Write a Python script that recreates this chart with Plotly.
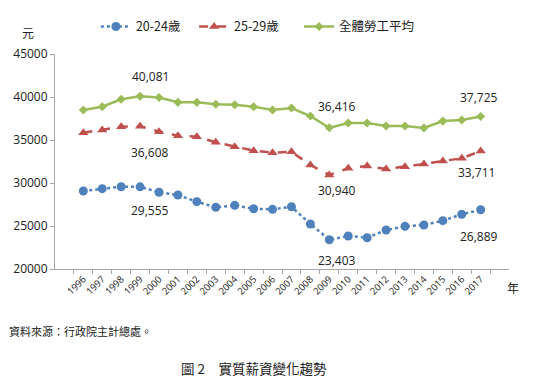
import plotly.graph_objects as go

years = [str(y) for y in range(1996, 2018)]
age_20_24 = [29070, 29340, 29570, 29555, 28920, 28600, 27830, 27170, 27400, 27010, 26940,
             27240, 25230, 23403, 23840, 23640, 24530, 24960, 25120, 25620, 26360, 26889]
age_25_29 = [35850, 36160, 36550, 36608, 35970, 35500, 35380, 34730, 34220, 33760, 33520,
             33640, 32090, 30940, 31710, 31980, 31630, 31900, 32210, 32560, 32870, 33711]
all_avg = [38490, 38870, 39730, 40081, 39950, 39380, 39380, 39150, 39100, 38870, 38490,
           38720, 37790, 36416, 36977, 36977, 36630, 36630, 36400, 37200, 37330, 37725]
names = ["20-24歲", "25-29歲", "全體勞工平均"]
y_ticks = [20000, 25000, 30000, 35000, 40000, 45000]

FONT = "Open Sans, Noto Sans CJK TC, sans-serif"
CJK = "Noto Sans CJK TC, sans-serif"

fig = go.Figure()
fig.add_trace(go.Scatter(x=years, y=age_20_24, name=names[0], mode="lines+markers",
                         line=dict(color="#4F81BD", width=2.5, dash="dot"),
                         marker=dict(symbol="circle", size=9, color="#4F81BD"),
                         legend="legend"))
fig.add_trace(go.Scatter(x=years, y=age_25_29, name=names[1], mode="lines+markers",
                         line=dict(color="#C0504D", width=2.5, dash="dash"),
                         marker=dict(symbol="triangle-up", size=9, color="#C0504D"),
                         legend="legend2"))
fig.add_trace(go.Scatter(x=years, y=all_avg, name=names[2], mode="lines+markers",
                         line=dict(color="#9BBB59", width=2.5),
                         marker=dict(symbol="diamond", size=7, color="#9BBB59"),
                         legend="legend3"))

# data labels (x given as category index)
i99, i09, i17 = years.index("1999"), years.index("2009"), years.index("2017")
labels = [
    (i99, all_avg[i99], 20, 10),
    (i99, age_25_29[i99], -26, 10),
    (i99, age_20_24[i99], -24, 10),
    (i09, all_avg[i09], 21, 8),
    (i09, age_25_29[i09], -16, 8),
    (i09, age_20_24[i09], -21, 8),
    (i17, all_avg[i17], 19, -2),
    (i17, age_25_29[i17], -21, -4),
    (i17, age_20_24[i17], -27, -2),
]
for x, y, ys, xs in labels:
    fig.add_annotation(x=x, y=y, text=f"{y:,}", showarrow=False, yshift=ys, xshift=xs,
                       font=dict(size=12, color="#222", family=FONT))

def paper_note(text, x, y, size, xanchor="center"):
    fig.add_annotation(text=text, xref="paper", yref="paper", x=x, y=y,
                       xanchor=xanchor, yanchor="middle", showarrow=False,
                       font=dict(size=size, family=CJK, color="#222"))

paper_note("元", -0.059, 1.098, 12)
paper_note("年", 1.009, -0.084, 12)
paper_note("資料來源：行政院主計總處。", -0.106, -0.29, 11, xanchor="left")
paper_note("圖 2　實質薪資變化趨勢", 0.438, -0.462, 13.5)

leg = dict(orientation="h", xref="container", yref="container", y=0.949,
           xanchor="left", yanchor="middle", font=dict(size=12.5, family=CJK),
           itemwidth=30, bgcolor="rgba(0,0,0,0)")

# page body has an 8px default margin; size figure so it fits the window
fig.update_layout(
    width=517, height=369,
    margin=dict(l=47, r=16, t=46, b=108, autoexpand=False),
    paper_bgcolor="white", plot_bgcolor="white",
    font=dict(family=FONT, color="#222"),
    showlegend=True,
    legend=dict(leg, x=0.170),
    legend2=dict(leg, x=0.360),
    legend3=dict(leg, x=0.563),
)
fig.update_xaxes(type="category", tickangle=-45, tickfont=dict(size=9.5),
                 showline=True, linecolor="#A6A6A6", linewidth=1,
                 ticks="outside", ticklen=4, tickcolor="#A6A6A6", tickson="boundaries",
                 showgrid=False)
fig.update_yaxes(range=[20000, 45000], tickvals=y_ticks, ticktext=[str(v) for v in y_ticks],
                 tickfont=dict(size=12), showline=True, linecolor="#A6A6A6", linewidth=1,
                 ticks="outside", ticklen=4, tickcolor="#A6A6A6", showgrid=False, zeroline=False)

fig.write_html("out.html")
